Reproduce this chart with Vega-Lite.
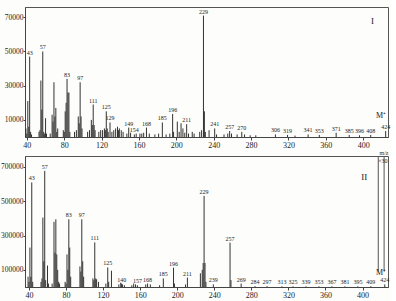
{
  "$schema": "https://vega.github.io/schema/vega-lite/v6.json",
  "background": "#fdfdfb",
  "padding": {"left": 0, "top": 6, "right": 0, "bottom": 0},
  "spacing": 19,
  "bounds": "flush",
  "config": {
    "view": {"stroke": "#555", "strokeWidth": 1},
    "axis": {"labelFont": "Liberation Serif", "labelFontSize": 8, "labelColor": "#222", "domainColor": "#444", "tickColor": "#444", "tickSize": 3, "grid": false, "labelPadding": 1, "titleFont": "Liberation Serif", "titleFontSize": 6, "titleFontWeight": "normal", "titleColor": "#333"},
    "axisY": {"labelFontSize": 7.5, "labelPadding": 0, "tickSize": 2},
    "text": {"font": "Liberation Serif", "fontSize": 6, "color": "#222"}
  },
  "datasets": {
    "p1": [
      {"mz": 39, "v": 5000}, {"mz": 40, "v": 2000}, {"mz": 41, "v": 21000}, {"mz": 42, "v": 6000}, {"mz": 43, "v": 47000, "lab": "43"}, {"mz": 44, "v": 3000}, {"mz": 45, "v": 1500},
      {"mz": 53, "v": 3000}, {"mz": 54, "v": 4000}, {"mz": 55, "v": 33000}, {"mz": 56, "v": 16000}, {"mz": 57, "v": 50000, "lab": "57"}, {"mz": 58, "v": 3000}, {"mz": 59, "v": 2000}, {"mz": 60, "v": 11000}, {"mz": 61, "v": 2000},
      {"mz": 65, "v": 2000}, {"mz": 67, "v": 13000}, {"mz": 68, "v": 9000}, {"mz": 69, "v": 32000}, {"mz": 70, "v": 12000}, {"mz": 71, "v": 17000}, {"mz": 72, "v": 3000}, {"mz": 73, "v": 5000},
      {"mz": 79, "v": 4000}, {"mz": 80, "v": 3000}, {"mz": 81, "v": 15000}, {"mz": 82, "v": 20000}, {"mz": 83, "v": 34000, "lab": "83"}, {"mz": 84, "v": 26000}, {"mz": 85, "v": 26000}, {"mz": 86, "v": 3000},
      {"mz": 91, "v": 3000}, {"mz": 93, "v": 4000}, {"mz": 95, "v": 12000}, {"mz": 96, "v": 8000}, {"mz": 97, "v": 32000, "lab": "97"}, {"mz": 98, "v": 12000}, {"mz": 99, "v": 5000},
      {"mz": 105, "v": 3000}, {"mz": 107, "v": 4000}, {"mz": 109, "v": 10000}, {"mz": 110, "v": 7000}, {"mz": 111, "v": 19000, "lab": "111"}, {"mz": 112, "v": 7000}, {"mz": 113, "v": 4000},
      {"mz": 117, "v": 3000}, {"mz": 119, "v": 4000}, {"mz": 121, "v": 4000}, {"mz": 123, "v": 5000}, {"mz": 124, "v": 4000}, {"mz": 125, "v": 15000, "lab": "125"}, {"mz": 126, "v": 5000}, {"mz": 127, "v": 3000}, {"mz": 129, "v": 8500, "lab": "129"},
      {"mz": 131, "v": 3000}, {"mz": 133, "v": 4000}, {"mz": 135, "v": 5000}, {"mz": 137, "v": 6000}, {"mz": 138, "v": 4000}, {"mz": 139, "v": 5000}, {"mz": 141, "v": 4000}, {"mz": 143, "v": 3000},
      {"mz": 147, "v": 2000}, {"mz": 149, "v": 5500, "lab": "149"}, {"mz": 151, "v": 2500}, {"mz": 155, "v": 1500, "lab": "154"}, {"mz": 157, "v": 2000}, {"mz": 161, "v": 2000}, {"mz": 163, "v": 2000}, {"mz": 165, "v": 2500},
      {"mz": 168, "v": 5500, "lab": "168"}, {"mz": 171, "v": 2000}, {"mz": 177, "v": 1500}, {"mz": 181, "v": 2000}, {"mz": 185, "v": 8500, "lab": "185"}, {"mz": 189, "v": 1500}, {"mz": 193, "v": 2000},
      {"mz": 196, "v": 13500, "lab": "196"}, {"mz": 197, "v": 3000}, {"mz": 201, "v": 9000}, {"mz": 203, "v": 3000}, {"mz": 205, "v": 8000}, {"mz": 207, "v": 5000}, {"mz": 209, "v": 2500}, {"mz": 211, "v": 7500, "lab": "211"},
      {"mz": 213, "v": 2000}, {"mz": 217, "v": 3000}, {"mz": 219, "v": 2000}, {"mz": 225, "v": 3000}, {"mz": 227, "v": 4000}, {"mz": 229, "v": 71000, "lab": "229"}, {"mz": 230, "v": 15000}, {"mz": 231, "v": 3000}, {"mz": 235, "v": 4000},
      {"mz": 241, "v": 5000, "lab": "241"}, {"mz": 243, "v": 1500}, {"mz": 251, "v": 1500}, {"mz": 255, "v": 2000}, {"mz": 257, "v": 3500, "lab": "257"}, {"mz": 259, "v": 2000}, {"mz": 265, "v": 1500},
      {"mz": 270, "v": 3000, "lab": "270"}, {"mz": 273, "v": 1500}, {"mz": 279, "v": 1000}, {"mz": 285, "v": 1000}, {"mz": 306, "v": 1500, "lab": "306"}, {"mz": 319, "v": 1200, "lab": "319"}, {"mz": 327, "v": 800},
      {"mz": 341, "v": 1500, "lab": "341"}, {"mz": 353, "v": 1200, "lab": "353"}, {"mz": 371, "v": 2500, "lab": "371"}, {"mz": 385, "v": 1200, "lab": "385"}, {"mz": 396, "v": 1000, "lab": "396"}, {"mz": 408, "v": 1200, "lab": "408"}, {"mz": 424, "v": 3500, "lab": "424"}
    ],
    "p2": [
      {"mz": 39, "v": 60000}, {"mz": 40, "v": 30000}, {"mz": 41, "v": 230000}, {"mz": 42, "v": 60000}, {"mz": 43, "v": 610000, "lab": "43"}, {"mz": 44, "v": 30000},
      {"mz": 53, "v": 30000}, {"mz": 54, "v": 50000}, {"mz": 55, "v": 405000}, {"mz": 56, "v": 150000}, {"mz": 57, "v": 677000, "lab": "57"}, {"mz": 58, "v": 40000}, {"mz": 60, "v": 125000}, {"mz": 61, "v": 20000},
      {"mz": 65, "v": 20000}, {"mz": 67, "v": 380000}, {"mz": 68, "v": 200000}, {"mz": 69, "v": 395000}, {"mz": 70, "v": 190000}, {"mz": 71, "v": 100000}, {"mz": 72, "v": 30000}, {"mz": 73, "v": 20000},
      {"mz": 79, "v": 30000}, {"mz": 80, "v": 20000}, {"mz": 81, "v": 190000}, {"mz": 82, "v": 100000}, {"mz": 83, "v": 395000, "lab": "83"}, {"mz": 84, "v": 230000}, {"mz": 85, "v": 60000},
      {"mz": 95, "v": 120000}, {"mz": 96, "v": 90000}, {"mz": 97, "v": 395000, "lab": "97"}, {"mz": 98, "v": 150000}, {"mz": 99, "v": 60000},
      {"mz": 109, "v": 50000}, {"mz": 110, "v": 40000}, {"mz": 111, "v": 260000, "lab": "111"}, {"mz": 112, "v": 50000}, {"mz": 113, "v": 45000}, {"mz": 115, "v": 30000},
      {"mz": 123, "v": 20000}, {"mz": 125, "v": 114000, "lab": "125"}, {"mz": 126, "v": 30000}, {"mz": 129, "v": 95000},
      {"mz": 137, "v": 15000}, {"mz": 139, "v": 25000}, {"mz": 140, "v": 20000, "lab": "140"}, {"mz": 141, "v": 15000}, {"mz": 143, "v": 10000},
      {"mz": 151, "v": 10000}, {"mz": 153, "v": 20000}, {"mz": 155, "v": 15000}, {"mz": 157, "v": 10000, "lab": "157"}, {"mz": 166, "v": 15000}, {"mz": 168, "v": 20000, "lab": "168"}, {"mz": 171, "v": 15000},
      {"mz": 181, "v": 10000}, {"mz": 185, "v": 50000, "lab": "185"}, {"mz": 196, "v": 113000, "lab": "196"}, {"mz": 197, "v": 20000}, {"mz": 209, "v": 15000}, {"mz": 211, "v": 55000, "lab": "211"},
      {"mz": 225, "v": 80000}, {"mz": 227, "v": 100000}, {"mz": 228, "v": 140000}, {"mz": 229, "v": 531000, "lab": "229"}, {"mz": 230, "v": 140000}, {"mz": 231, "v": 30000},
      {"mz": 239, "v": 15000, "lab": "239"}, {"mz": 257, "v": 259000, "lab": "257"}, {"mz": 258, "v": 40000}, {"mz": 269, "v": 20000, "lab": "269"},
      {"mz": 284, "v": 5000, "lab": "284"}, {"mz": 297, "v": 5000, "lab": "297"}, {"mz": 313, "v": 4000, "lab": "313"}, {"mz": 325, "v": 4000, "lab": "325"}, {"mz": 339, "v": 4000, "lab": "339"},
      {"mz": 353, "v": 4000, "lab": "353"}, {"mz": 367, "v": 4000, "lab": "367"}, {"mz": 381, "v": 4000, "lab": "381"}, {"mz": 395, "v": 4000, "lab": "395"}, {"mz": 409, "v": 5000, "lab": "409"}, {"mz": 424, "v": 15000, "lab": "424"}
    ],
    "n1": [
      {"mz": 410, "v": 68000, "t": "I", "size": 9, "w": "bold"},
      {"mz": 419, "v": 12000, "t": "M⁺", "size": 8, "w": "bold"}
    ],
    "n2": [
      {"mz": 402, "v": 640000, "t": "II", "size": 9, "w": "bold"},
      {"mz": 420, "v": 80000, "t": "M⁺", "size": 8, "w": "bold"},
      {"mz": 422, "v": 735000, "t": "×30", "size": 6, "w": "normal"}
    ],
    "b2": [
      {"mz": 417, "v": 90000, "v2": 764000},
      {"mz": 423.3, "v": 90000, "v2": 764000}
    ]
  },
  "vconcat": [
    {
      "width": 363,
      "height": 130,
      "layer": [
        {
          "data": {"name": "p1"},
          "mark": {"type": "rule", "color": "#333", "strokeWidth": 1},
          "encoding": {
            "x": {"field": "mz", "type": "quantitative", "scale": {"domain": [38, 426.5], "nice": false, "zero": false},
              "axis": {"values": [40, 50, 60, 70, 80, 90, 100, 110, 120, 130, 140, 150, 160, 170, 180, 190, 200, 210, 220, 230, 240, 250, 260, 270, 280, 290, 300, 310, 320, 330, 340, 350, 360, 370, 380, 390, 400, 410, 420],
                "labelExpr": "datum.value % 20 == 0 ? datum.label : ''", "title": "m/z", "titleAnchor": "end", "titlePadding": 0}},
            "y": {"field": "v", "type": "quantitative", "scale": {"domain": [0, 76000], "nice": false},
              "axis": {"values": [10000, 20000, 30000, 40000, 50000, 60000, 70000], "format": "d", "title": null}},
            "y2": {"datum": 0}
          }
        },
        {
          "data": {"name": "p1"},
          "transform": [{"filter": "datum.lab"}],
          "mark": {"type": "text", "baseline": "bottom", "dy": -1},
          "encoding": {
            "x": {"field": "mz", "type": "quantitative"},
            "y": {"field": "v", "type": "quantitative"},
            "text": {"field": "lab"}
          }
        },
        {
          "data": {"name": "n1"},
          "mark": {"type": "text", "baseline": "middle"},
          "encoding": {
            "x": {"field": "mz", "type": "quantitative"},
            "y": {"field": "v", "type": "quantitative"},
            "text": {"field": "t"},
            "size": {"field": "size", "type": "quantitative", "scale": null},
            "fontWeight": {"field": "w", "type": "nominal", "scale": null}
          }
        }
      ]
    },
    {
      "width": 363,
      "height": 131,
      "layer": [
        {
          "data": {"name": "p2"},
          "mark": {"type": "rule", "color": "#333", "strokeWidth": 1},
          "encoding": {
            "x": {"field": "mz", "type": "quantitative", "scale": {"domain": [35.7, 427.5], "nice": false, "zero": false},
              "axis": {"values": [40, 50, 60, 70, 80, 90, 100, 110, 120, 130, 140, 150, 160, 170, 180, 190, 200, 210, 220, 230, 240, 250, 260, 270, 280, 290, 300, 310, 320, 330, 340, 350, 360, 370, 380, 390, 400, 410, 420],
                "labelExpr": "datum.value % 20 == 0 ? datum.label : ''", "title": "m/z", "titleAnchor": "end", "titlePadding": 0}},
            "y": {"field": "v", "type": "quantitative", "scale": {"domain": [0, 764000], "nice": false},
              "axis": {"values": [100000, 200000, 300000, 400000, 500000, 600000, 700000], "format": "d", "title": null}},
            "y2": {"datum": 0}
          }
        },
        {
          "data": {"name": "b2"},
          "mark": {"type": "rule", "color": "#555", "strokeWidth": 1},
          "encoding": {
            "x": {"field": "mz", "type": "quantitative"},
            "y": {"field": "v", "type": "quantitative"},
            "y2": {"field": "v2"}
          }
        },
        {
          "data": {"name": "p2"},
          "transform": [{"filter": "datum.lab"}],
          "mark": {"type": "text", "baseline": "bottom", "dy": -1},
          "encoding": {
            "x": {"field": "mz", "type": "quantitative"},
            "y": {"field": "v", "type": "quantitative"},
            "text": {"field": "lab"}
          }
        },
        {
          "data": {"name": "n2"},
          "mark": {"type": "text", "baseline": "middle"},
          "encoding": {
            "x": {"field": "mz", "type": "quantitative"},
            "y": {"field": "v", "type": "quantitative"},
            "text": {"field": "t"},
            "size": {"field": "size", "type": "quantitative", "scale": null},
            "fontWeight": {"field": "w", "type": "nominal", "scale": null}
          }
        }
      ]
    }
  ]
}
